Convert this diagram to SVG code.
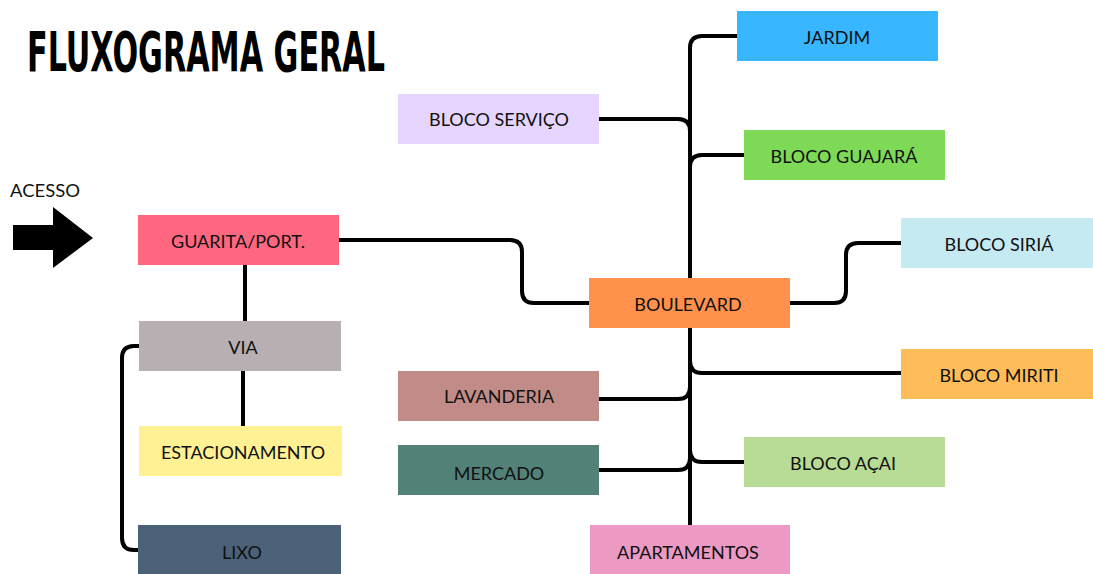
<svg xmlns="http://www.w3.org/2000/svg" width="1093" height="574" viewBox="0 0 1093 574">
<style>
.c{fill:none;stroke:#000;stroke-width:4;stroke-linecap:butt}
.t{font-family:Lato,"Liberation Sans",sans-serif;font-size:18px;fill:#111;text-anchor:middle;dominant-baseline:central}
</style>
<rect width="1093" height="574" fill="#fff"/>
<text x="27" y="71" font-family="'DejaVu Sans Condensed','DejaVu Sans',sans-serif" font-weight="bold" font-size="56" textLength="358" lengthAdjust="spacingAndGlyphs" fill="#000">FLUXOGRAMA GERAL</text>
<text x="10" y="197" font-family="Lato,'Liberation Sans',sans-serif" font-size="17" textLength="70" lengthAdjust="spacingAndGlyphs" fill="#111">ACESSO</text>
<path d="M13,225 H53 V207 L93,238 L53,268 V250 H13 Z" fill="#000"/>
<g id="connectors">
<path class="c" d="M737,36 H702 Q690,36 690,48 V525"/>
<path class="c" d="M599,119 H678 Q690,119 690,131"/>
<path class="c" d="M744,155 H702 Q690,155 690,167"/>
<path class="c" d="M690,361 Q690,373 702,373 H901"/>
<path class="c" d="M599,399 H678 Q690,399 690,387"/>
<path class="c" d="M599,470 H678 Q690,470 690,458"/>
<path class="c" d="M690,450 Q690,462 702,462 H744"/>
<path class="c" d="M790,303 H834 Q846,303 846,291 V255 Q846,243 858,243 H901"/>
<path class="c" d="M339,240 H510 Q522,240 522,252 V291 Q522,303 534,303 H589"/>
<path class="c" d="M245,265 V321"/>
<path class="c" d="M243,371 V426"/>
<path class="c" d="M139,346 H134 Q122,346 122,358 V538 Q122,550 134,550 H138"/>
</g>
<g id="jardim"><rect x="737" y="11" width="201" height="50" fill="#38B6FF"/><text class="t" x="837" y="37">JARDIM</text></g>
<g id="bloco-servico"><rect x="398" y="94" width="201" height="50" fill="#E6D5FF"/><text class="t" x="499" y="119">BLOCO SERVIÇO</text></g>
<g id="bloco-guajara"><rect x="744" y="130" width="201" height="50" fill="#7ED957"/><text class="t" x="844" y="156">BLOCO GUAJARÁ</text></g>
<g id="bloco-siria"><rect x="901" y="218" width="192" height="50" fill="#C6EAF2"/><text class="t" x="999" y="244">BLOCO SIRIÁ</text></g>
<g id="guarita"><rect x="138" y="215" width="201" height="50" fill="#FF6680"/><text class="t" x="238" y="241">GUARITA/PORT.</text></g>
<g id="boulevard"><rect x="589" y="278" width="201" height="50" fill="#FF914D"/><text class="t" x="688" y="304">BOULEVARD</text></g>
<g id="via"><rect x="139" y="321" width="202" height="50" fill="#B8AFB2"/><text class="t" x="243" y="347">VIA</text></g>
<g id="bloco-miriti"><rect x="901" y="349" width="192" height="50" fill="#FFBD59"/><text class="t" x="999" y="375">BLOCO MIRITI</text></g>
<g id="lavanderia"><rect x="398" y="371" width="201" height="50" fill="#C18C88"/><text class="t" x="499" y="396">LAVANDERIA</text></g>
<g id="mercado"><rect x="398" y="445" width="201" height="50" fill="#528177"/><text class="t" x="499" y="473">MERCADO</text></g>
<g id="bloco-acai"><rect x="744" y="437" width="201" height="50" fill="#B8DB95"/><text class="t" x="843" y="463">BLOCO AÇAI</text></g>
<g id="estacionamento"><rect x="139" y="426" width="203" height="50" fill="#FFF194"/><text class="t" x="243" y="452">ESTACIONAMENTO</text></g>
<g id="lixo"><rect x="138" y="525" width="203" height="49" fill="#4A6178"/><text class="t" x="242" y="552">LIXO</text></g>
<g id="apartamentos"><rect x="590" y="525" width="200" height="49" fill="#EC9AC4"/><text class="t" x="688" y="552">APARTAMENTOS</text></g>
</svg>
